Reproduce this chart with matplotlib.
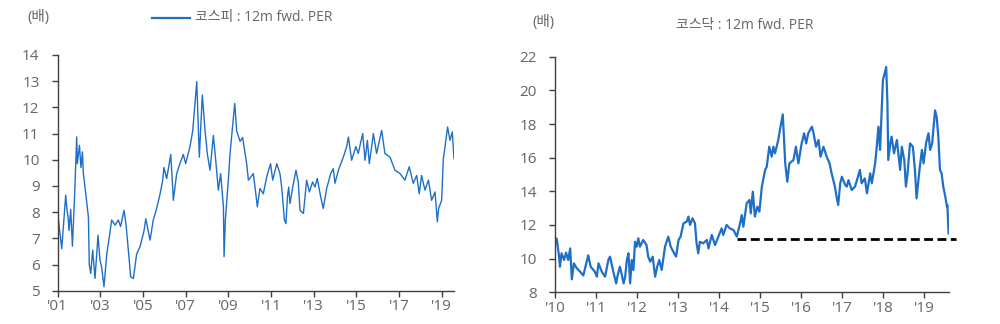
import matplotlib
matplotlib.use("Agg")
import matplotlib.pyplot as plt

plt.rcParams['font.family'] = ['Open Sans', 'Noto Sans CJK KR', 'DejaVu Sans']

# ---- KOSPI 12m fwd PER (fractional year, value) ----
kospi_t = [2001.00, 2001.19, 2001.375, 2001.42, 2001.50, 2001.53, 2001.61, 2001.69, 2001.80, 2001.89,
           2001.92, 2002.02, 2002.09, 2002.16, 2002.20, 2002.33, 2002.44, 2002.48, 2002.55, 2002.64,
           2002.75, 2002.89, 2002.98, 2003.06, 2003.17, 2003.30, 2003.42, 2003.53, 2003.69, 2003.84,
           2003.95, 2004.11, 2004.20, 2004.34, 2004.42, 2004.55, 2004.70, 2004.86, 2005.05, 2005.13,
           2005.33, 2005.48, 2005.64, 2005.80, 2005.92, 2005.98, 2006.11, 2006.30, 2006.39, 2006.42,
           2006.58, 2006.73, 2006.89, 2007.00, 2007.20, 2007.33, 2007.52, 2007.64, 2007.78, 2007.91,
           2008.02, 2008.14, 2008.30, 2008.45, 2008.53, 2008.64, 2008.77, 2008.80, 2008.86, 2009.00,
           2009.08, 2009.30, 2009.39, 2009.55, 2009.67, 2009.86, 2009.94, 2010.17, 2010.25, 2010.36,
           2010.48, 2010.64, 2010.80, 2010.98, 2011.08, 2011.27, 2011.42, 2011.50, 2011.63, 2011.70,
           2011.77, 2011.83, 2011.89, 2012.02, 2012.17, 2012.28, 2012.36, 2012.52, 2012.67, 2012.80,
           2012.95, 2013.06, 2013.17, 2013.33, 2013.45, 2013.61, 2013.80, 2013.92, 2014.00, 2014.16,
           2014.39, 2014.55, 2014.63, 2014.78, 2014.98, 2015.09, 2015.30, 2015.41, 2015.52, 2015.61,
           2015.80, 2015.95, 2016.19, 2016.34, 2016.58, 2016.81, 2017.05, 2017.28, 2017.48, 2017.67,
           2017.83, 2017.95, 2018.06, 2018.22, 2018.38, 2018.53, 2018.69, 2018.80, 2018.86, 2019.00,
           2019.08, 2019.16, 2019.28, 2019.39, 2019.50, 2019.58]
kospi_v = [7.95, 6.60, 8.65, 8.20, 7.70, 7.30, 8.10, 6.70, 8.80, 10.87,
           9.85, 10.55, 9.70, 10.30, 9.50, 8.60, 7.80, 6.00, 5.66, 6.55,
           5.47, 7.12, 6.17, 5.91, 5.15, 6.40, 7.05, 7.70, 7.50, 7.70,
           7.45, 8.07, 7.55, 6.30, 5.53, 5.47, 6.40, 6.68, 7.30, 7.75,
           6.93, 7.70, 8.14, 8.70, 9.20, 9.70, 9.28, 10.20, 8.96, 8.45,
           9.47, 9.85, 10.20, 9.85, 10.50, 11.10, 12.98, 10.10, 12.47, 11.10,
           10.20, 9.60, 10.93, 9.60, 8.84, 9.47, 8.20, 6.30, 7.70, 9.22,
           10.24, 12.15, 11.10, 10.70, 10.85, 9.85, 9.22, 9.47, 8.96, 8.20,
           8.90, 8.70, 9.35, 9.85, 9.22, 9.85, 9.47, 8.96, 7.70, 7.56,
           8.58, 8.96, 8.33, 8.96, 9.60, 9.15, 8.07, 7.95, 9.22, 8.77,
           9.15, 8.96, 9.28, 8.58, 8.14, 8.90, 9.47, 9.66, 9.10, 9.60,
           10.10, 10.50, 10.87, 9.98, 10.50, 10.24, 11.00, 9.98, 10.74, 9.85,
           11.00, 10.24, 11.12, 10.24, 10.10, 9.60, 9.47, 9.22, 9.73, 9.10,
           9.40, 8.70, 9.40, 8.84, 9.22, 8.45, 8.77, 7.63, 8.14, 8.45,
           10.04, 10.50, 11.25, 10.74, 11.06, 10.04]

# ---- KOSDAQ 12m fwd PER (years since 2010, value) ----
kosdaq_dt = [0.00, 0.04, 0.10, 0.12, 0.16, 0.22, 0.27, 0.32, 0.37, 0.39,
             0.41, 0.46, 0.53, 0.61, 0.69, 0.81, 0.87, 0.97, 1.02, 1.06,
             1.14, 1.22, 1.30, 1.34, 1.42, 1.49, 1.52, 1.58, 1.62, 1.67,
             1.71, 1.75, 1.79, 1.83, 1.87, 1.91, 1.95, 1.99, 2.03, 2.07,
             2.15, 2.23, 2.27, 2.32, 2.38, 2.44, 2.49, 2.54, 2.60, 2.68,
             2.76, 2.82, 2.88, 2.95, 3.01, 3.06, 3.13, 3.21, 3.25, 3.29,
             3.35, 3.41, 3.45, 3.49, 3.53, 3.61, 3.70, 3.74, 3.82, 3.90,
             3.98, 4.06, 4.10, 4.18, 4.26, 4.35, 4.43, 4.51, 4.55, 4.59,
             4.67, 4.74, 4.77, 4.82, 4.87, 4.93, 4.98, 5.04, 5.12, 5.16,
             5.22, 5.28, 5.32, 5.36, 5.44, 5.48, 5.55, 5.61, 5.66, 5.71,
             5.81, 5.87, 5.93, 6.01, 6.07, 6.12, 6.17, 6.26, 6.30, 6.36,
             6.42, 6.47, 6.54, 6.62, 6.69, 6.74, 6.82, 6.86, 6.90, 6.95,
             6.99, 7.07, 7.11, 7.15, 7.23, 7.31, 7.43, 7.47, 7.55, 7.60,
             7.68, 7.72, 7.80, 7.84, 7.88, 7.92, 7.99, 8.07, 8.10, 8.12,
             8.17, 8.20, 8.26, 8.33, 8.41, 8.45, 8.51, 8.55, 8.59, 8.65,
             8.72, 8.77, 8.81, 8.88, 8.94, 8.98, 9.04, 9.10, 9.14, 9.19,
             9.26, 9.30, 9.34, 9.38, 9.42, 9.46, 9.51, 9.55, 9.56, 9.59]
kosdaq_v = [10.81, 11.20, 10.12, 9.52, 10.32, 9.92, 10.36, 9.92, 10.61, 9.72,
            8.77, 9.72, 9.43, 9.23, 9.00, 10.20, 9.52, 9.23, 8.93, 9.72,
            9.23, 8.93, 9.92, 10.12, 9.23, 8.53, 8.93, 9.52, 9.13, 8.53,
            8.93, 9.92, 10.32, 8.53, 9.92, 9.33, 11.00, 10.71, 11.21, 10.71,
            11.11, 10.81, 10.12, 9.82, 10.12, 8.93, 9.52, 9.92, 9.33, 10.71,
            11.31, 10.71, 10.42, 10.12, 11.11, 11.31, 12.10, 12.20, 12.50, 12.00,
            12.40, 12.10, 10.91, 10.32, 11.00, 10.91, 11.11, 10.61, 11.41, 10.81,
            11.31, 11.80, 11.41, 12.00, 11.80, 11.70, 11.31, 12.10, 12.59, 11.90,
            13.29, 13.49, 12.69, 13.98, 12.50, 13.09, 12.79, 14.28, 15.27, 15.47,
            16.65, 16.06, 16.65, 16.26, 17.05, 17.64, 18.57, 15.66, 14.57, 15.66,
            15.86, 16.65, 15.66, 16.85, 17.45, 16.85, 17.45, 17.84, 17.45, 16.65,
            17.05, 16.06, 16.65, 16.06, 15.66, 15.07, 14.28, 13.68, 13.19, 14.48,
            14.87, 14.38, 14.28, 14.67, 14.08, 14.28, 15.27, 14.48, 14.77, 13.88,
            15.07, 14.48, 15.66, 16.65, 17.84, 16.46, 20.60, 21.39, 19.20, 15.86,
            16.85, 17.25, 16.26, 17.05, 15.27, 16.65, 15.86, 14.28, 15.07, 16.85,
            16.65, 15.27, 13.58, 15.27, 16.46, 15.66, 16.85, 17.45, 16.46, 16.85,
            18.81, 18.42, 17.25, 15.27, 15.07, 14.28, 13.68, 13.09, 13.19, 11.50]
kosdaq_base_year = 2010
kosdaq_ref_start = 2014.44
kosdaq_ref_end = 2019.76
kosdaq_ref_value = 11.17

kospi_ticks = list(range(2001, 2020, 2))
kosdaq_ticks = list(range(2010, 2020))

BLUE = '#1f6fc6'
GRAY = '#666666'
AX = '#404040'

fig = plt.figure(figsize=(10, 3.24), dpi=100)

def style(ax):
    for s in ['top', 'right']:
        ax.spines[s].set_visible(False)
    for s in ['left', 'bottom']:
        ax.spines[s].set_color(AX)
        ax.spines[s].set_linewidth(1.0)
    ax.tick_params(axis='both', colors=AX, labelcolor=GRAY, labelsize=11,
                   length=4, width=1, direction='out')
    ax.tick_params(axis='y', pad=9)
    ax.tick_params(axis='x', pad=2)

ax1 = fig.add_axes([0.0577, 0.1027, 0.3963, 0.7278])
ax1.plot(kospi_t, kospi_v, color=BLUE, lw=1.0)
ax1.set_xlim(2001, 2019.58)
ax1.set_ylim(5, 14)
ax1.set_yticks(range(5, 15))
ax1.set_xticks(kospi_ticks)
ax1.set_xticklabels(["'%02d" % (y % 100) for y in kospi_ticks])
style(ax1)

fig.text(0.038, 0.945, '(배)', ha='center', va='center', fontsize=10.5, color=GRAY)
fig.lines.append(plt.Line2D([0.152, 0.190], [0.945, 0.945], color=BLUE, lw=1.6,
                            transform=fig.transFigure))
fig.text(0.195, 0.945, '코스피 : 12m fwd. PER', ha='left', va='center',
         fontsize=10, color=GRAY)

ax2 = fig.add_axes([0.555, 0.0978, 0.394, 0.7272])
kosdaq_t = [kosdaq_base_year + d for d in kosdaq_dt]
ax2.plot(kosdaq_t, kosdaq_v, color=BLUE, lw=1.6)
ax2.plot([kosdaq_ref_start, kosdaq_ref_end], [kosdaq_ref_value, kosdaq_ref_value],
         color='black', lw=2.0, ls=(0, (3.2, 1.6)), clip_on=False)
ax2.set_xlim(2010, 2019.6)
ax2.set_ylim(8, 22)
ax2.set_yticks(range(8, 23, 2))
ax2.set_xticks(kosdaq_ticks)
ax2.set_xticklabels(["'%02d" % (y % 100) for y in kosdaq_ticks])
style(ax2)

fig.text(0.543, 0.932, '(배)', ha='center', va='center', fontsize=10.5, color=GRAY)
fig.text(0.745, 0.92, '코스닥 : 12m fwd. PER', ha='center', va='center',
         fontsize=10, color=GRAY)

fig.savefig('out.png', dpi=100)
